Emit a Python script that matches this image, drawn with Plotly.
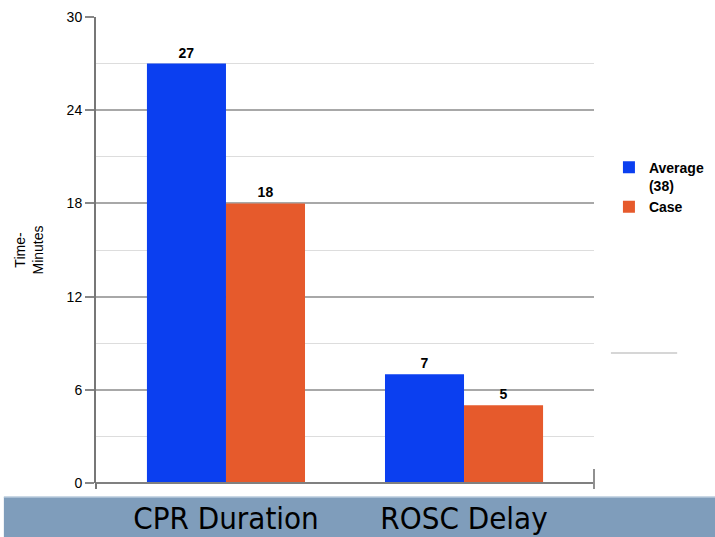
import plotly.graph_objects as go

categories = ["CPR Duration", "ROSC Delay"]
series_names = ["Average<br>(38)", "Case"]
average_values = [27, 7]
case_values = [18, 5]
y_ticks = [0, 6, 12, 18, 24, 30]
colors = ["#0b3ff0", "#e65a2c"]

fig = go.Figure()
for name, vals, col in zip(series_names, [average_values, case_values], colors):
    fig.add_trace(go.Bar(
        x=categories, y=vals, name=name,
        marker=dict(color=col, line=dict(width=0)),
        text=[str(v) for v in vals], textposition="outside",
        textfont=dict(family="Liberation Sans, Arial, sans-serif", size=14, color="black", weight="bold"),
        cliponaxis=False,
    ))

fig.update_layout(
    width=715, height=537,
    margin=dict(l=96, r=121, t=17, b=54, autoexpand=False),
    paper_bgcolor="white", plot_bgcolor="white",
    barmode="group", bargap=0.336, bargroupgap=0,
    font=dict(family="Liberation Sans, Arial, sans-serif", size=13, color="black"),
    showlegend=True,
    legend=dict(x=1.03, y=0.711, xanchor="left", yanchor="top", valign="top",
                font=dict(size=14, color="black", weight="bold"),
                bgcolor="rgba(0,0,0,0)", tracegroupgap=2),
    xaxis=dict(range=[-0.546, 1.546], showgrid=False, showline=False, ticks="",
               automargin=False, ticklabelstandoff=14,
               tickfont=dict(family="DejaVu Sans Condensed, Liberation Sans Narrow, Arial Narrow, sans-serif",
                             size=31, color="black")),
    yaxis=dict(range=[0, 30], tickvals=y_ticks, ticks="outside", ticklen=9, tickwidth=1.5,
               tickcolor="#888888", showgrid=True, gridcolor="#a8a8a8", gridwidth=1.5,
               zeroline=False, showline=True, linecolor="#777777", linewidth=2,
               automargin=False,
               tickfont=dict(size=14, color="black"),
               minor=dict(dtick=3, showgrid=True, gridcolor="#dddddd", gridwidth=1),
               title=dict(text="Time-<br>Minutes", font=dict(size=14, color="black"), standoff=20)),
)

# bottom band behind category labels
fig.add_shape(type="rect", xref="paper", yref="paper", x0=-0.185, x1=1.25, y0=-0.030, y1=-0.13,
              fillcolor="#7f9dbb", line=dict(width=0), layer="below")
fig.add_shape(type="line", xref="paper", yref="paper", x0=-0.185, x1=1.25, y0=-0.030, y1=-0.030,
              line=dict(color="#b9cbdc", width=1.5), layer="below")
# baseline and end ticks
fig.add_shape(type="line", xref="paper", yref="paper", x0=0, x1=1, y0=0, y1=0,
              line=dict(color="#808080", width=2))
fig.add_shape(type="line", xref="paper", yref="paper", x0=1, x1=1, y0=0.03, y1=-0.013,
              line=dict(color="#909090", width=2))
fig.add_shape(type="line", xref="paper", yref="paper", x0=0, x1=0, y0=0, y1=-0.013,
              line=dict(color="#777777", width=2))
# stray grey line at right
fig.add_shape(type="line", xref="paper", yref="paper", x0=1.034, x1=1.167, y0=0.279, y1=0.279,
              line=dict(color="#c8c8c8", width=1.5))

fig.write_html("out.html", config={"displayModeBar": False},
               post_script="document.body.style.margin='0';document.body.style.overflow='hidden';")
